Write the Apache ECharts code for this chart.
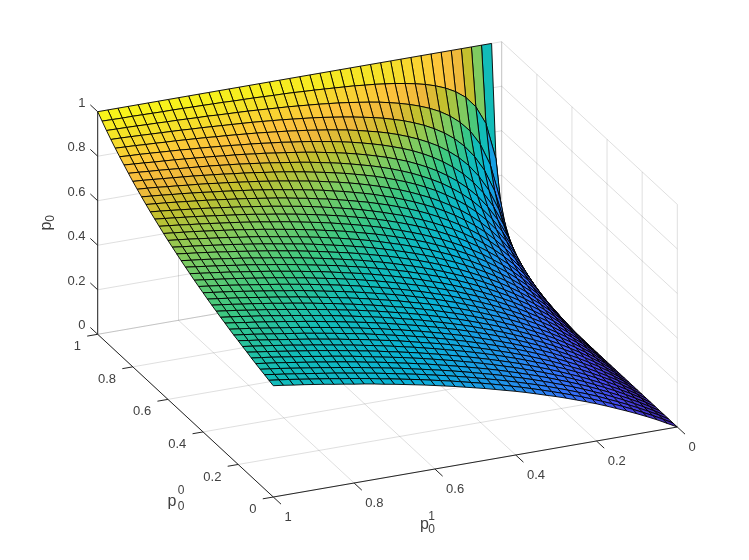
<!DOCTYPE html>
<html>
<head>
<meta charset="utf-8">
<title>p0 surface</title>
<script src="https://cdn.jsdelivr.net/npm/echarts@6/dist/echarts.min.js"></script>
<style>
html, body { margin: 0; padding: 0; background: #fff; }
#main { width: 749px; height: 560px; }
</style>
</head>
<body>
<div id="main"></div>
<script>
// tick values on the three axes
var p01Ticks = [0, 0.2, 0.4, 0.6, 0.8, 1];
var p00Ticks = [0, 0.2, 0.4, 0.6, 0.8, 1];
var p0Ticks = [0, 0.2, 0.4, 0.6, 0.8, 1];

// mesh positions
var p01Grid = [0,.025,.05,.075,.1,.125,.15,.175,.2,.225,.25,.275,.3,.325,.35,.375,.4,.425,.45,.475,.5,.525,.55,.575,.6,.625,.65,.675,.7,.725,.75,.775,.8,.825,.85,.875,.9,.925,.95,.975,1];
var p00Grid = [1,.975,.95,.925,.9,.875,.85,.825,.8,.775,.75,.725,.7,.675,.65,.625,.6,.575,.55,.525,.5,.475,.45,.425,.4,.375,.35,.325,.3,.275,.25,.225,.2,.175,.15,.125,.1,.075,.05,.025,0];

// height of the surface, one row per p00Grid entry, one column per p01Grid entry
var p0Table = [
[null,1,1,1,1,1,1,1,1,1,1,1,1,1,1,1,1,1,1,1,1,1,1,1,1,1,1,1,1,1,1,1,1,1,1,1,1,1,1,1,1],
[0,.5,.667,.75,.8,.833,.857,.875,.889,.9,.909,.917,.923,.929,.933,.938,.941,.944,.947,.95,.952,.955,.957,.958,.96,.962,.963,.964,.966,.967,.968,.969,.97,.971,.971,.972,.973,.974,.974,.975,.976],
[0,.333,.5,.6,.667,.714,.75,.778,.8,.818,.833,.846,.857,.867,.875,.882,.889,.895,.9,.905,.909,.913,.917,.92,.923,.926,.929,.931,.933,.935,.938,.939,.941,.943,.944,.946,.947,.949,.95,.951,.952],
[0,.25,.4,.5,.571,.625,.667,.7,.727,.75,.769,.786,.8,.813,.824,.833,.842,.85,.857,.864,.87,.875,.88,.885,.889,.893,.897,.9,.903,.906,.909,.912,.914,.917,.919,.921,.923,.925,.927,.929,.93],
[0,.2,.333,.429,.5,.556,.6,.636,.667,.692,.714,.733,.75,.765,.778,.789,.8,.81,.818,.826,.833,.84,.846,.852,.857,.862,.867,.871,.875,.879,.882,.886,.889,.892,.895,.897,.9,.902,.905,.907,.909],
[0,.167,.286,.375,.444,.5,.545,.583,.615,.643,.667,.688,.706,.722,.737,.75,.762,.773,.783,.792,.8,.808,.815,.821,.828,.833,.839,.844,.848,.853,.857,.861,.865,.868,.872,.875,.878,.881,.884,.886,.889],
[0,.143,.25,.333,.4,.455,.5,.538,.571,.6,.625,.647,.667,.684,.7,.714,.727,.739,.75,.76,.769,.778,.786,.793,.8,.806,.813,.818,.824,.829,.833,.838,.842,.846,.85,.854,.857,.86,.864,.867,.87],
[0,.125,.222,.3,.364,.417,.462,.5,.533,.563,.588,.611,.632,.65,.667,.682,.696,.708,.72,.731,.741,.75,.759,.767,.774,.781,.788,.794,.8,.806,.811,.816,.821,.825,.829,.833,.837,.841,.844,.848,.851],
[0,.111,.2,.273,.333,.385,.429,.467,.5,.529,.556,.579,.6,.619,.636,.652,.667,.68,.692,.704,.714,.724,.733,.742,.75,.758,.765,.771,.778,.784,.789,.795,.8,.805,.81,.814,.818,.822,.826,.83,.833],
[0,.1,.182,.25,.308,.357,.4,.438,.471,.5,.526,.55,.571,.591,.609,.625,.64,.654,.667,.679,.69,.7,.71,.719,.727,.735,.743,.75,.757,.763,.769,.775,.78,.786,.791,.795,.8,.804,.809,.813,.816],
[0,.091,.167,.231,.286,.333,.375,.412,.444,.474,.5,.524,.545,.565,.583,.6,.615,.63,.643,.655,.667,.677,.688,.697,.706,.714,.722,.73,.737,.744,.75,.756,.762,.767,.773,.778,.783,.787,.792,.796,.8],
[0,.083,.154,.214,.267,.313,.353,.389,.421,.45,.476,.5,.522,.542,.56,.577,.593,.607,.621,.633,.645,.656,.667,.676,.686,.694,.703,.711,.718,.725,.732,.738,.744,.75,.756,.761,.766,.771,.776,.78,.784],
[0,.077,.143,.2,.25,.294,.333,.368,.4,.429,.455,.478,.5,.52,.538,.556,.571,.586,.6,.613,.625,.636,.647,.657,.667,.676,.684,.692,.7,.707,.714,.721,.727,.733,.739,.745,.75,.755,.76,.765,.769],
[0,.071,.133,.188,.235,.278,.316,.35,.381,.409,.435,.458,.48,.5,.519,.536,.552,.567,.581,.594,.606,.618,.629,.639,.649,.658,.667,.675,.683,.69,.698,.705,.711,.717,.723,.729,.735,.74,.745,.75,.755],
[0,.067,.125,.176,.222,.263,.3,.333,.364,.391,.417,.44,.462,.481,.5,.517,.533,.548,.563,.576,.588,.6,.611,.622,.632,.641,.65,.659,.667,.674,.682,.689,.696,.702,.708,.714,.72,.725,.731,.736,.741],
[0,.063,.118,.167,.211,.25,.286,.318,.348,.375,.4,.423,.444,.464,.483,.5,.516,.531,.545,.559,.571,.583,.595,.605,.615,.625,.634,.643,.651,.659,.667,.674,.681,.688,.694,.7,.706,.712,.717,.722,.727],
[0,.059,.111,.158,.2,.238,.273,.304,.333,.36,.385,.407,.429,.448,.467,.484,.5,.515,.529,.543,.556,.568,.579,.59,.6,.61,.619,.628,.636,.644,.652,.66,.667,.673,.68,.686,.692,.698,.704,.709,.714],
[0,.056,.105,.15,.19,.227,.261,.292,.32,.346,.37,.393,.414,.433,.452,.469,.485,.5,.514,.528,.541,.553,.564,.575,.585,.595,.605,.614,.622,.63,.638,.646,.653,.66,.667,.673,.679,.685,.691,.696,.702],
[0,.053,.1,.143,.182,.217,.25,.28,.308,.333,.357,.379,.4,.419,.438,.455,.471,.486,.5,.514,.526,.538,.55,.561,.571,.581,.591,.6,.609,.617,.625,.633,.64,.647,.654,.66,.667,.673,.679,.684,.69],
[0,.05,.095,.136,.174,.208,.24,.269,.296,.321,.345,.367,.387,.406,.424,.441,.457,.472,.486,.5,.513,.525,.537,.548,.558,.568,.578,.587,.596,.604,.612,.62,.627,.635,.642,.648,.655,.661,.667,.672,.678],
[0,.048,.091,.13,.167,.2,.231,.259,.286,.31,.333,.355,.375,.394,.412,.429,.444,.459,.474,.487,.5,.512,.524,.535,.545,.556,.565,.574,.583,.592,.6,.608,.615,.623,.63,.636,.643,.649,.655,.661,.667],
[0,.045,.087,.125,.16,.192,.222,.25,.276,.3,.323,.344,.364,.382,.4,.417,.432,.447,.462,.475,.488,.5,.512,.523,.533,.543,.553,.563,.571,.58,.588,.596,.604,.611,.618,.625,.632,.638,.644,.65,.656],
[0,.043,.083,.12,.154,.185,.214,.241,.267,.29,.313,.333,.353,.371,.389,.405,.421,.436,.45,.463,.476,.488,.5,.511,.522,.532,.542,.551,.56,.569,.577,.585,.593,.6,.607,.614,.621,.627,.633,.639,.645],
[0,.042,.08,.115,.148,.179,.207,.233,.258,.281,.303,.324,.343,.361,.378,.395,.41,.425,.439,.452,.465,.477,.489,.5,.511,.521,.531,.54,.549,.558,.566,.574,.582,.589,.596,.603,.61,.617,.623,.629,.635],
[0,.04,.077,.111,.143,.172,.2,.226,.25,.273,.294,.314,.333,.351,.368,.385,.4,.415,.429,.442,.455,.467,.478,.489,.5,.51,.52,.529,.538,.547,.556,.564,.571,.579,.586,.593,.6,.607,.613,.619,.625],
[0,.038,.074,.107,.138,.167,.194,.219,.242,.265,.286,.306,.324,.342,.359,.375,.39,.405,.419,.432,.444,.457,.468,.479,.49,.5,.51,.519,.528,.537,.545,.554,.561,.569,.576,.583,.59,.597,.603,.609,.615],
[0,.037,.071,.103,.133,.161,.188,.212,.235,.257,.278,.297,.316,.333,.35,.366,.381,.395,.409,.422,.435,.447,.458,.469,.48,.49,.5,.509,.519,.527,.536,.544,.552,.559,.567,.574,.581,.587,.594,.6,.606],
[0,.036,.069,.1,.129,.156,.182,.206,.229,.25,.27,.289,.308,.325,.341,.357,.372,.386,.4,.413,.426,.438,.449,.46,.471,.481,.491,.5,.509,.518,.526,.534,.542,.55,.557,.565,.571,.578,.585,.591,.597],
[0,.034,.067,.097,.125,.152,.176,.2,.222,.243,.263,.282,.3,.317,.333,.349,.364,.378,.391,.404,.417,.429,.44,.451,.462,.472,.481,.491,.5,.509,.517,.525,.533,.541,.548,.556,.563,.569,.576,.582,.588],
[0,.033,.065,.094,.121,.147,.171,.194,.216,.237,.256,.275,.293,.31,.326,.341,.356,.37,.383,.396,.408,.42,.431,.442,.453,.463,.473,.482,.491,.5,.508,.517,.525,.532,.54,.547,.554,.561,.567,.574,.58],
[0,.032,.063,.091,.118,.143,.167,.189,.211,.231,.25,.268,.286,.302,.318,.333,.348,.362,.375,.388,.4,.412,.423,.434,.444,.455,.464,.474,.483,.492,.5,.508,.516,.524,.531,.538,.545,.552,.559,.565,.571],
[0,.031,.061,.088,.114,.139,.162,.184,.205,.225,.244,.262,.279,.295,.311,.326,.34,.354,.367,.38,.392,.404,.415,.426,.436,.446,.456,.466,.475,.483,.492,.5,.508,.516,.523,.53,.537,.544,.551,.557,.563],
[0,.03,.059,.086,.111,.135,.158,.179,.2,.22,.238,.256,.273,.289,.304,.319,.333,.347,.36,.373,.385,.396,.407,.418,.429,.439,.448,.458,.467,.475,.484,.492,.5,.508,.515,.522,.529,.536,.543,.549,.556],
[0,.029,.057,.083,.108,.132,.154,.175,.195,.214,.233,.25,.267,.283,.298,.313,.327,.34,.353,.365,.377,.389,.4,.411,.421,.431,.441,.45,.459,.468,.476,.484,.492,.5,.507,.515,.522,.529,.535,.542,.548],
[0,.029,.056,.081,.105,.128,.15,.171,.19,.209,.227,.244,.261,.277,.292,.306,.32,.333,.346,.358,.37,.382,.393,.404,.414,.424,.433,.443,.452,.46,.469,.477,.485,.493,.5,.507,.514,.521,.528,.534,.541],
[0,.028,.054,.079,.103,.125,.146,.167,.186,.205,.222,.239,.255,.271,.286,.3,.314,.327,.34,.352,.364,.375,.386,.397,.407,.417,.426,.435,.444,.453,.462,.47,.478,.485,.493,.5,.507,.514,.521,.527,.533],
[0,.027,.053,.077,.1,.122,.143,.163,.182,.2,.217,.234,.25,.265,.28,.294,.308,.321,.333,.345,.357,.368,.379,.39,.4,.41,.419,.429,.438,.446,.455,.463,.471,.478,.486,.493,.5,.507,.514,.52,.526],
[0,.026,.051,.075,.098,.119,.14,.159,.178,.196,.213,.229,.245,.26,.275,.288,.302,.315,.327,.339,.351,.362,.373,.383,.393,.403,.413,.422,.431,.439,.448,.456,.464,.471,.479,.486,.493,.5,.507,.513,.519],
[0,.026,.05,.073,.095,.116,.136,.156,.174,.191,.208,.224,.24,.255,.269,.283,.296,.309,.321,.333,.345,.356,.367,.377,.387,.397,.406,.415,.424,.433,.441,.449,.457,.465,.472,.479,.486,.493,.5,.506,.513],
[0,.025,.049,.071,.093,.114,.133,.152,.17,.188,.204,.22,.235,.25,.264,.278,.291,.304,.316,.328,.339,.35,.361,.371,.381,.391,.4,.409,.418,.426,.435,.443,.451,.458,.466,.473,.48,.487,.494,.5,.506],
[0,.024,.048,.07,.091,.111,.13,.149,.167,.184,.2,.216,.231,.245,.259,.273,.286,.298,.31,.322,.333,.344,.355,.365,.375,.385,.394,.403,.412,.42,.429,.437,.444,.452,.459,.467,.474,.481,.487,.494,.5]
];

// colormap stops
var colorStops = [0, 0.1, 0.2, 0.3, 0.4, 0.5, 0.58, 0.667, 0.75, 0.8, 0.85, 0.92, 1];
var colorValues = [[62,38,168],[71,70,235],[52,115,250],[30,150,232],[10,178,214],[18,188,184],[60,200,130],[127,203,96],[196,192,46],[239,185,59],[253,195,60],[245,225,40],[249,251,21]];

var origin = [677.3, 427];
var p01Vec = [-404, 70];
var p00Vec = [-175.6, -162.7];
var p0Vec = [0, -222.6];

function project(a, b, c) {
  return [
    origin[0] + a * p01Vec[0] + b * p00Vec[0] + c * p0Vec[0],
    origin[1] + a * p01Vec[1] + b * p00Vec[1] + c * p0Vec[1]
  ];
}

function parula(v) {
  var k = 0;
  while (k < colorStops.length - 2 && v > colorStops[k + 1]) k++;
  var t = (v - colorStops[k]) / (colorStops[k + 1] - colorStops[k]);
  var c0 = colorValues[k], c1 = colorValues[k + 1];
  return 'rgb(' + Math.round(c0[0] + (c1[0] - c0[0]) * t) + ',' + Math.round(c0[1] + (c1[1] - c0[1]) * t) + ',' + Math.round(c0[2] + (c1[2] - c0[2]) * t) + ')';
}

// walls and floor
var gridLines = [];
p01Ticks.forEach(function (a) {
  gridLines.push([a, 0, 0, a, 1, 0]);
  gridLines.push([a, 1, 0, a, 1, 1]);
});
p00Ticks.forEach(function (b) {
  gridLines.push([0, b, 0, 1, b, 0]);
  gridLines.push([0, b, 0, 0, b, 1]);
});
p0Ticks.forEach(function (c) {
  gridLines.push([0, 1, c, 1, 1, c]);
  gridLines.push([0, 0, c, 0, 1, c]);
});

// axis lines and tick marks
var axisLines = [[1, 1, 0, 1, 1, 1], [1, 0, 0, 1, 1, 0], [0, 0, 0, 1, 0, 0]];
p0Ticks.forEach(function (c) { axisLines.push([1, 1, c, 1, 1.042, c]); });
p00Ticks.forEach(function (b) { axisLines.push([1, b, 0, 1.026, b, 0]); });
p01Ticks.forEach(function (a) { axisLines.push([a, 0, 0, a, -0.044, 0]); });

// tick labels: [p01, p00, p0, text, dx, dy, align]
var tickLabels = [];
p0Ticks.forEach(function (c) { tickLabels.push([1, 1, c, String(c), -12.2, -8.6, 'right']); });
p00Ticks.forEach(function (b) { tickLabels.push([1, b, 0, String(b), -16.8, 12.5, 'right']); });
p01Ticks.forEach(function (a) { tickLabels.push([a, 0, 0, String(a), 11.2, 20.6, 'left']); });

// axis title pieces: [x, y, text, size, rotated]
var titleParts = [
  [46.5, 226, 'p', 16, 1], [51, 218.5, '0', 12, 1],
  [172, 502, 'p', 16, 0], [181, 507, '0', 12, 0], [181, 491, '0', 12, 0],
  [424.5, 525, 'p', 16, 0], [431.5, 530, '0', 12, 0], [431.5, 517, '1', 12, 0]
];

var cells = [];
for (var i = 0; i < p00Grid.length - 1; i++) {
  for (var j = 0; j < p01Grid.length - 1; j++) {
    if (p0Table[i][j] === null) continue;
    cells.push([i, j]);
  }
}

function renderSegment(color, width) {
  return function (params, api) {
    var s = project(api.value(0), api.value(1), api.value(2));
    var e = project(api.value(3), api.value(4), api.value(5));
    var p0 = api.coord(s), p1 = api.coord(e);
    return {
      type: 'line',
      silent: true,
      shape: { x1: p0[0], y1: p0[1], x2: p1[0], y2: p1[1] },
      style: { stroke: color, lineWidth: width, fill: null }
    };
  };
}

function renderCell(params, api) {
  var i = api.value(0), j = api.value(1);
  var pts = [[i, j], [i + 1, j], [i + 1, j + 1], [i, j + 1]].map(function (m) {
    return api.coord(project(p01Grid[m[1]], p00Grid[m[0]], p0Table[m[0]][m[1]]));
  });
  return {
    type: 'polygon',
    silent: true,
    shape: { points: pts },
    style: { fill: parula(p0Table[i + 1][j]), stroke: '#000', lineWidth: 0.9, lineJoin: 'round' }
  };
}

function renderTick(params, api) {
  var row = tickLabels[params.dataIndex];
  var p = api.coord(project(row[0], row[1], row[2]));
  return {
    type: 'text',
    silent: true,
    style: {
      x: p[0] + row[4], y: p[1] + row[5], text: row[3], fill: '#404040',
      font: '13px "Liberation Sans"', align: row[6], verticalAlign: 'middle'
    }
  };
}

function renderTitle(params, api) {
  var row = titleParts[params.dataIndex];
  var p = api.coord([row[0], row[1]]);
  return {
    type: 'text',
    silent: true,
    x: p[0], y: p[1],
    rotation: row[4] ? Math.PI / 2 : 0,
    style: {
      x: 0, y: 0, text: row[2], fill: '#404040',
      font: row[3] + 'px "Liberation Sans"', align: 'center', verticalAlign: 'middle'
    }
  };
}

var myChart = echarts.init(document.getElementById('main'), null, { renderer: 'canvas' });
myChart.setOption({
  animation: false,
  backgroundColor: '#ffffff',
  tooltip: { show: false },
  grid: { left: 0, right: 0, top: 0, bottom: 0 },
  xAxis: { type: 'value', min: 0, max: 749, show: false },
  yAxis: { type: 'value', min: 0, max: 560, inverse: true, show: false },
  series: [
    { type: 'custom', clip: false, progressive: 0, data: gridLines, renderItem: renderSegment('rgba(38,38,38,0.15)', 1) },
    { type: 'custom', clip: false, progressive: 0, data: axisLines, renderItem: renderSegment('#262626', 1) },
    { type: 'custom', clip: false, progressive: 0, data: cells, renderItem: renderCell },
    { type: 'custom', clip: false, progressive: 0, data: tickLabels.map(function (r, k) { return [k]; }), renderItem: renderTick },
    { type: 'custom', clip: false, progressive: 0, data: titleParts.map(function (r, k) { return [k]; }), renderItem: renderTitle }
  ]
});
</script>
</body>
</html>
